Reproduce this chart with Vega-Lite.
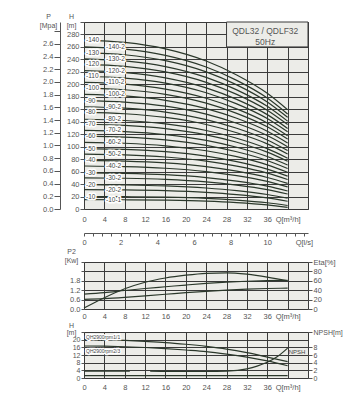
{
"$schema":"https://vega.github.io/schema/vega-lite/v6.json",
"background":"white",
"padding":{"left":38,"top":11,"right":5,"bottom":5},
"spacing":0,
"config":{
 "view":{"fill":"#ecece8","stroke":"#3a3a3a","strokeWidth":1},
 "font":"Liberation Sans",
 "axis":{"labelColor":"#555","titleColor":"#555","labelFont":"Liberation Sans","titleFont":"Liberation Sans","titleFontWeight":"normal","gridColor":"#3a3a3a","gridOpacity":1,"gridWidth":1,"domainColor":"#555","tickColor":"#555","labelOverlap":false,"labelFlush":false,"labelBound":false},
 "line":{"color":"#2b382b","strokeWidth":1.2,"interpolate":"monotone"},
 "text":{"font":"Liberation Sans","color":"#444"}
},
"datasets":{
"top":[
{"m":"-10-1","t":"b","Q":0,"H":15},{"m":"-10-1","t":"b","Q":8,"H":14.8},{"m":"-10-1","t":"b","Q":16,"H":14.2},{"m":"-10-1","t":"b","Q":24,"H":12.7},{"m":"-10-1","t":"b","Q":30,"H":10.3},{"m":"-10-1","t":"b","Q":36,"H":6.5},{"m":"-10-1","t":"b","Q":40,"H":2.6},
{"m":"-10","t":"a","Q":0,"H":20},{"m":"-10","t":"a","Q":8,"H":19.7},{"m":"-10","t":"a","Q":16,"H":19.0},{"m":"-10","t":"a","Q":24,"H":17.1},{"m":"-10","t":"a","Q":30,"H":14.3},{"m":"-10","t":"a","Q":36,"H":10.0},{"m":"-10","t":"a","Q":40,"H":5.6},
{"m":"-20-2","t":"b","Q":0,"H":31},{"m":"-20-2","t":"b","Q":8,"H":30.6},{"m":"-20-2","t":"b","Q":16,"H":29.4},{"m":"-20-2","t":"b","Q":24,"H":26.7},{"m":"-20-2","t":"b","Q":30,"H":23.1},{"m":"-20-2","t":"b","Q":36,"H":17.7},{"m":"-20-2","t":"b","Q":40,"H":12.4},
{"m":"-20","t":"a","Q":0,"H":39},{"m":"-20","t":"a","Q":8,"H":38.5},{"m":"-20","t":"a","Q":16,"H":37.0},{"m":"-20","t":"a","Q":24,"H":33.7},{"m":"-20","t":"a","Q":30,"H":29.5},{"m":"-20","t":"a","Q":36,"H":23.3},{"m":"-20","t":"a","Q":40,"H":17.3},
{"m":"-30-2","t":"b","Q":0,"H":50},{"m":"-30-2","t":"b","Q":8,"H":49.3},{"m":"-30-2","t":"b","Q":16,"H":47.4},{"m":"-30-2","t":"b","Q":24,"H":43.4},{"m":"-30-2","t":"b","Q":30,"H":38.3},{"m":"-30-2","t":"b","Q":36,"H":31.0},{"m":"-30-2","t":"b","Q":40,"H":24.0},
{"m":"-30","t":"a","Q":0,"H":58},{"m":"-30","t":"a","Q":8,"H":57.2},{"m":"-30","t":"a","Q":16,"H":55.0},{"m":"-30","t":"a","Q":24,"H":50.4},{"m":"-30","t":"a","Q":30,"H":44.7},{"m":"-30","t":"a","Q":36,"H":36.6},{"m":"-30","t":"a","Q":40,"H":28.9},
{"m":"-40-2","t":"b","Q":0,"H":69},{"m":"-40-2","t":"b","Q":8,"H":68.0},{"m":"-40-2","t":"b","Q":16,"H":65.4},{"m":"-40-2","t":"b","Q":24,"H":60.1},{"m":"-40-2","t":"b","Q":30,"H":53.5},{"m":"-40-2","t":"b","Q":36,"H":44.3},{"m":"-40-2","t":"b","Q":40,"H":35.6},
{"m":"-40","t":"a","Q":0,"H":78},{"m":"-40","t":"a","Q":8,"H":76.9},{"m":"-40","t":"a","Q":16,"H":73.9},{"m":"-40","t":"a","Q":24,"H":68.0},{"m":"-40","t":"a","Q":30,"H":60.7},{"m":"-40","t":"a","Q":36,"H":50.6},{"m":"-40","t":"a","Q":40,"H":41.1},
{"m":"-50-2","t":"b","Q":0,"H":88},{"m":"-50-2","t":"b","Q":8,"H":86.8},{"m":"-50-2","t":"b","Q":16,"H":83.4},{"m":"-50-2","t":"b","Q":24,"H":76.8},{"m":"-50-2","t":"b","Q":30,"H":68.7},{"m":"-50-2","t":"b","Q":36,"H":57.6},{"m":"-50-2","t":"b","Q":40,"H":47.3},
{"m":"-50","t":"a","Q":0,"H":97},{"m":"-50","t":"a","Q":8,"H":95.6},{"m":"-50","t":"a","Q":16,"H":92.0},{"m":"-50","t":"a","Q":24,"H":84.7},{"m":"-50","t":"a","Q":30,"H":75.9},{"m":"-50","t":"a","Q":36,"H":63.9},{"m":"-50","t":"a","Q":40,"H":52.8},
{"m":"-60-2","t":"b","Q":0,"H":107},{"m":"-60-2","t":"b","Q":8,"H":105.5},{"m":"-60-2","t":"b","Q":16,"H":101.4},{"m":"-60-2","t":"b","Q":24,"H":93.4},{"m":"-60-2","t":"b","Q":30,"H":83.9},{"m":"-60-2","t":"b","Q":36,"H":70.9},{"m":"-60-2","t":"b","Q":40,"H":58.9},
{"m":"-60","t":"a","Q":0,"H":117},{"m":"-60","t":"a","Q":8,"H":115.4},{"m":"-60","t":"a","Q":16,"H":110.9},{"m":"-60","t":"a","Q":24,"H":102.2},{"m":"-60","t":"a","Q":30,"H":91.9},{"m":"-60","t":"a","Q":36,"H":77.9},{"m":"-60","t":"a","Q":40,"H":65.0},
{"m":"-70-2","t":"b","Q":0,"H":126},{"m":"-70-2","t":"b","Q":8,"H":124.2},{"m":"-70-2","t":"b","Q":16,"H":119.4},{"m":"-70-2","t":"b","Q":24,"H":110.1},{"m":"-70-2","t":"b","Q":30,"H":99.1},{"m":"-70-2","t":"b","Q":36,"H":84.2},{"m":"-70-2","t":"b","Q":40,"H":70.5},
{"m":"-70","t":"a","Q":0,"H":136},{"m":"-70","t":"a","Q":8,"H":134.1},{"m":"-70","t":"a","Q":16,"H":128.9},{"m":"-70","t":"a","Q":24,"H":118.9},{"m":"-70","t":"a","Q":30,"H":107.1},{"m":"-70","t":"a","Q":36,"H":91.2},{"m":"-70","t":"a","Q":40,"H":76.6},
{"m":"-80-2","t":"b","Q":0,"H":144},{"m":"-80-2","t":"b","Q":8,"H":142.0},{"m":"-80-2","t":"b","Q":16,"H":136.5},{"m":"-80-2","t":"b","Q":24,"H":125.9},{"m":"-80-2","t":"b","Q":30,"H":113.5},{"m":"-80-2","t":"b","Q":36,"H":96.8},{"m":"-80-2","t":"b","Q":40,"H":81.5},
{"m":"-80","t":"a","Q":0,"H":155},{"m":"-80","t":"a","Q":8,"H":152.8},{"m":"-80","t":"a","Q":16,"H":146.9},{"m":"-80","t":"a","Q":24,"H":135.6},{"m":"-80","t":"a","Q":30,"H":122.3},{"m":"-80","t":"a","Q":36,"H":104.5},{"m":"-80","t":"a","Q":40,"H":88.3},
{"m":"-90-2","t":"b","Q":0,"H":164},{"m":"-90-2","t":"b","Q":8,"H":161.7},{"m":"-90-2","t":"b","Q":16,"H":155.5},{"m":"-90-2","t":"b","Q":24,"H":143.5},{"m":"-90-2","t":"b","Q":30,"H":129.5},{"m":"-90-2","t":"b","Q":36,"H":110.8},{"m":"-90-2","t":"b","Q":40,"H":93.8},
{"m":"-90","t":"a","Q":0,"H":174},{"m":"-90","t":"a","Q":8,"H":171.6},{"m":"-90","t":"a","Q":16,"H":165.0},{"m":"-90","t":"a","Q":24,"H":152.3},{"m":"-90","t":"a","Q":30,"H":137.5},{"m":"-90","t":"a","Q":36,"H":117.8},{"m":"-90","t":"a","Q":40,"H":99.9},
{"m":"-100-2","t":"b","Q":0,"H":184},{"m":"-100-2","t":"b","Q":8,"H":181.4},{"m":"-100-2","t":"b","Q":16,"H":174.4},{"m":"-100-2","t":"b","Q":24,"H":161.1},{"m":"-100-2","t":"b","Q":30,"H":145.5},{"m":"-100-2","t":"b","Q":36,"H":124.8},{"m":"-100-2","t":"b","Q":40,"H":106.0},
{"m":"-100","t":"a","Q":0,"H":194},{"m":"-100","t":"a","Q":8,"H":191.3},{"m":"-100","t":"a","Q":16,"H":183.9},{"m":"-100","t":"a","Q":24,"H":169.8},{"m":"-100","t":"a","Q":30,"H":153.5},{"m":"-100","t":"a","Q":36,"H":131.8},{"m":"-100","t":"a","Q":40,"H":112.1},
{"m":"-110-2","t":"b","Q":0,"H":203},{"m":"-110-2","t":"b","Q":8,"H":200.2},{"m":"-110-2","t":"b","Q":16,"H":192.4},{"m":"-110-2","t":"b","Q":24,"H":177.7},{"m":"-110-2","t":"b","Q":30,"H":160.7},{"m":"-110-2","t":"b","Q":36,"H":138.1},{"m":"-110-2","t":"b","Q":40,"H":117.6},
{"m":"-110","t":"a","Q":0,"H":213},{"m":"-110","t":"a","Q":8,"H":210.0},{"m":"-110","t":"a","Q":16,"H":201.9},{"m":"-110","t":"a","Q":24,"H":186.5},{"m":"-110","t":"a","Q":30,"H":168.7},{"m":"-110","t":"a","Q":36,"H":145.1},{"m":"-110","t":"a","Q":40,"H":123.8},
{"m":"-120-2","t":"b","Q":0,"H":222},{"m":"-120-2","t":"b","Q":8,"H":218.9},{"m":"-120-2","t":"b","Q":16,"H":210.5},{"m":"-120-2","t":"b","Q":24,"H":194.4},{"m":"-120-2","t":"b","Q":30,"H":175.9},{"m":"-120-2","t":"b","Q":36,"H":151.4},{"m":"-120-2","t":"b","Q":40,"H":129.3},
{"m":"-120","t":"a","Q":0,"H":232},{"m":"-120","t":"a","Q":8,"H":228.8},{"m":"-120","t":"a","Q":16,"H":219.9},{"m":"-120","t":"a","Q":24,"H":203.2},{"m":"-120","t":"a","Q":30,"H":183.9},{"m":"-120","t":"a","Q":36,"H":158.4},{"m":"-120","t":"a","Q":40,"H":135.4},
{"m":"-130-2","t":"b","Q":0,"H":241},{"m":"-130-2","t":"b","Q":8,"H":237.6},{"m":"-130-2","t":"b","Q":16,"H":228.5},{"m":"-130-2","t":"b","Q":24,"H":211.1},{"m":"-130-2","t":"b","Q":30,"H":191.1},{"m":"-130-2","t":"b","Q":36,"H":164.7},{"m":"-130-2","t":"b","Q":40,"H":140.9},
{"m":"-130","t":"a","Q":0,"H":251},{"m":"-130","t":"a","Q":8,"H":247.5},{"m":"-130","t":"a","Q":16,"H":237.9},{"m":"-130","t":"a","Q":24,"H":219.9},{"m":"-130","t":"a","Q":30,"H":199.1},{"m":"-130","t":"a","Q":36,"H":171.7},{"m":"-130","t":"a","Q":40,"H":147.0},
{"m":"-140-2","t":"b","Q":0,"H":260},{"m":"-140-2","t":"b","Q":8,"H":256.4},{"m":"-140-2","t":"b","Q":16,"H":246.5},{"m":"-140-2","t":"b","Q":24,"H":227.8},{"m":"-140-2","t":"b","Q":30,"H":206.3},{"m":"-140-2","t":"b","Q":36,"H":178.0},{"m":"-140-2","t":"b","Q":40,"H":152.5},
{"m":"-140","t":"a","Q":0,"H":271},{"m":"-140","t":"a","Q":8,"H":267.2},{"m":"-140","t":"a","Q":16,"H":256.9},{"m":"-140","t":"a","Q":24,"H":237.4},{"m":"-140","t":"a","Q":30,"H":215.1},{"m":"-140","t":"a","Q":36,"H":185.7},{"m":"-140","t":"a","Q":40,"H":159.3}
],
"box":[{"x1":28,"x2":44,"y1":260,"y2":300,"xm":35.6,"ym":285.5,"txt":"QDL32 / QDLF32\n50Hz"}],
"mid":[
{"s":"eta","Q":0,"v":2},{"s":"eta","Q":4,"v":24},{"s":"eta","Q":8,"v":43},{"s":"eta","Q":12,"v":57},{"s":"eta","Q":16,"v":66},{"s":"eta","Q":20,"v":72},{"s":"eta","Q":24,"v":76},{"s":"eta","Q":28,"v":77},{"s":"eta","Q":32,"v":74},{"s":"eta","Q":36,"v":68},{"s":"eta","Q":40,"v":60},
{"s":"p1","Q":0,"v":0.95},{"s":"p1","Q":4,"v":1.04},{"s":"p1","Q":8,"v":1.18},{"s":"p1","Q":12,"v":1.31},{"s":"p1","Q":16,"v":1.42},{"s":"p1","Q":20,"v":1.53},{"s":"p1","Q":24,"v":1.63},{"s":"p1","Q":28,"v":1.71},{"s":"p1","Q":32,"v":1.77},{"s":"p1","Q":36,"v":1.81},{"s":"p1","Q":40,"v":1.83},
{"s":"p2","Q":0,"v":0.62},{"s":"p2","Q":4,"v":0.66},{"s":"p2","Q":8,"v":0.74},{"s":"p2","Q":12,"v":0.84},{"s":"p2","Q":16,"v":0.94},{"s":"p2","Q":20,"v":1.04},{"s":"p2","Q":24,"v":1.13},{"s":"p2","Q":28,"v":1.21},{"s":"p2","Q":32,"v":1.27},{"s":"p2","Q":36,"v":1.31},{"s":"p2","Q":40,"v":1.33}
],
"bot":[
{"s":"QH2900rpm1/1","Q":0,"v":20.0},{"s":"QH2900rpm1/1","Q":4,"v":19.9},{"s":"QH2900rpm1/1","Q":8,"v":19.6},{"s":"QH2900rpm1/1","Q":12,"v":19.1},{"s":"QH2900rpm1/1","Q":16,"v":18.5},{"s":"QH2900rpm1/1","Q":20,"v":17.6},{"s":"QH2900rpm1/1","Q":24,"v":16.5},{"s":"QH2900rpm1/1","Q":28,"v":15.1},{"s":"QH2900rpm1/1","Q":32,"v":13.2},{"s":"QH2900rpm1/1","Q":36,"v":10.9},{"s":"QH2900rpm1/1","Q":40,"v":8.5},
{"s":"QH2900rpm2/3","Q":0,"v":16.7},{"s":"QH2900rpm2/3","Q":4,"v":16.6},{"s":"QH2900rpm2/3","Q":8,"v":16.3},{"s":"QH2900rpm2/3","Q":12,"v":15.9},{"s":"QH2900rpm2/3","Q":16,"v":15.3},{"s":"QH2900rpm2/3","Q":20,"v":14.6},{"s":"QH2900rpm2/3","Q":24,"v":13.8},{"s":"QH2900rpm2/3","Q":28,"v":12.5},{"s":"QH2900rpm2/3","Q":32,"v":10.9},{"s":"QH2900rpm2/3","Q":36,"v":8.9},{"s":"QH2900rpm2/3","Q":40,"v":6.4},
{"s":"base","Q":0,"v":1.2},{"s":"base","Q":40,"v":1.2}
],
"npsh":[
{"g":1,"Q":0,"v":1.8},{"g":1,"Q":9,"v":1.8},
{"g":2,"Q":13,"v":1.8},{"g":2,"Q":20,"v":1.7},{"g":2,"Q":24,"v":1.7},{"g":2,"Q":28,"v":1.8},{"g":2,"Q":32,"v":2.4},{"g":2,"Q":34,"v":3.1},{"g":2,"Q":36,"v":4.1},{"g":2,"Q":38,"v":5.6},{"g":2,"Q":40,"v":7.8}
]
},
"vconcat":[
{
 "width":224,"height":187,
 "layer":[
  {"layer":[
   {"data":{"name":"top"},"mark":{"type":"line"},
    "encoding":{
     "x":{"field":"Q","type":"quantitative","scale":{"domain":[0,44],"nice":false,"zero":false},
      "axis":{"values":[0,4,8,12,16,20,24,28,32,36,40],"grid":true,"ticks":false,"domain":false,"labelFontSize":7.5,"labelPadding":6,"title":null,"labelExpr":"datum.value == 40 ? '\u00a0\u00a0\u00a0\u00a0\u00a0\u00a0Q[m³/h]' : datum.label"}},
     "y":{"field":"H","type":"quantitative","scale":{"domain":[0,300],"nice":false},
      "axis":{"values":[0,20,40,60,80,100,120,140,160,180,200,220,240,260,280,300],"grid":true,"tickSize":4,"domain":false,"labelFontSize":7.5,"labelPadding":1,"labelExpr":"datum.value == 300 ? '' : datum.label","title":["H","[m]"],"titleAngle":0,"titleFontSize":7,"titleX":-13,"titleY":-3,"titleAlign":"center","titleBaseline":"bottom","titleLineHeight":9}},
     "detail":{"field":"m"}}},
   {"data":{"name":"top"},"transform":[{"filter":"datum.Q == 0 && datum.t == 'a'"}],
    "mark":{"type":"text","align":"left","baseline":"middle","dx":2,"fontSize":6.5,"stroke":"white","strokeWidth":3,"strokeJoin":"round"},
    "encoding":{
     "x":{"field":"Q","type":"quantitative","scale":{"domain":[0,44],"nice":false,"zero":false},
      "axis":{"values":[0,4,8,12,16,20,24,28,32,36,40],"grid":true,"ticks":false,"domain":false,"labelFontSize":7.5,"labelPadding":6,"title":null,"labelExpr":"datum.value == 40 ? '\u00a0\u00a0\u00a0\u00a0\u00a0\u00a0Q[m³/h]' : datum.label"}},
     "y":{"field":"H","type":"quantitative","scale":{"domain":[0,300],"nice":false},
      "axis":{"values":[0,20,40,60,80,100,120,140,160,180,200,220,240,260,280,300],"grid":true,"tickSize":4,"domain":false,"labelFontSize":7.5,"labelPadding":1,"labelExpr":"datum.value == 300 ? '' : datum.label","title":["H","[m]"],"titleAngle":0,"titleFontSize":7,"titleX":-13,"titleY":-3,"titleAlign":"center","titleBaseline":"bottom","titleLineHeight":9}},
     "text":{"field":"m"}}},
   {"data":{"name":"top"},"transform":[{"filter":"datum.Q == 0 && datum.t == 'a'"}],
    "mark":{"type":"text","align":"left","baseline":"middle","dx":2,"fontSize":6.5},
    "encoding":{
     "x":{"field":"Q","type":"quantitative","scale":{"domain":[0,44],"nice":false,"zero":false},
      "axis":{"values":[0,4,8,12,16,20,24,28,32,36,40],"grid":true,"ticks":false,"domain":false,"labelFontSize":7.5,"labelPadding":6,"title":null,"labelExpr":"datum.value == 40 ? '\u00a0\u00a0\u00a0\u00a0\u00a0\u00a0Q[m³/h]' : datum.label"}},
     "y":{"field":"H","type":"quantitative","scale":{"domain":[0,300],"nice":false},
      "axis":{"values":[0,20,40,60,80,100,120,140,160,180,200,220,240,260,280,300],"grid":true,"tickSize":4,"domain":false,"labelFontSize":7.5,"labelPadding":1,"labelExpr":"datum.value == 300 ? '' : datum.label","title":["H","[m]"],"titleAngle":0,"titleFontSize":7,"titleX":-13,"titleY":-3,"titleAlign":"center","titleBaseline":"bottom","titleLineHeight":9}},
     "text":{"field":"m"}}},
   {"data":{"name":"top"},"transform":[{"filter":"datum.Q == 0 && datum.t == 'b'"}],
    "mark":{"type":"text","align":"left","baseline":"middle","dx":22,"fontSize":6.5,"stroke":"white","strokeWidth":3,"strokeJoin":"round"},
    "encoding":{
     "x":{"field":"Q","type":"quantitative","scale":{"domain":[0,44],"nice":false,"zero":false},
      "axis":{"values":[0,4,8,12,16,20,24,28,32,36,40],"grid":true,"ticks":false,"domain":false,"labelFontSize":7.5,"labelPadding":6,"title":null,"labelExpr":"datum.value == 40 ? '\u00a0\u00a0\u00a0\u00a0\u00a0\u00a0Q[m³/h]' : datum.label"}},
     "y":{"field":"H","type":"quantitative","scale":{"domain":[0,300],"nice":false},
      "axis":{"values":[0,20,40,60,80,100,120,140,160,180,200,220,240,260,280,300],"grid":true,"tickSize":4,"domain":false,"labelFontSize":7.5,"labelPadding":1,"labelExpr":"datum.value == 300 ? '' : datum.label","title":["H","[m]"],"titleAngle":0,"titleFontSize":7,"titleX":-13,"titleY":-3,"titleAlign":"center","titleBaseline":"bottom","titleLineHeight":9}},
     "text":{"field":"m"}}},
   {"data":{"name":"top"},"transform":[{"filter":"datum.Q == 0 && datum.t == 'b'"}],
    "mark":{"type":"text","align":"left","baseline":"middle","dx":22,"fontSize":6.5},
    "encoding":{
     "x":{"field":"Q","type":"quantitative","scale":{"domain":[0,44],"nice":false,"zero":false},
      "axis":{"values":[0,4,8,12,16,20,24,28,32,36,40],"grid":true,"ticks":false,"domain":false,"labelFontSize":7.5,"labelPadding":6,"title":null,"labelExpr":"datum.value == 40 ? '\u00a0\u00a0\u00a0\u00a0\u00a0\u00a0Q[m³/h]' : datum.label"}},
     "y":{"field":"H","type":"quantitative","scale":{"domain":[0,300],"nice":false},
      "axis":{"values":[0,20,40,60,80,100,120,140,160,180,200,220,240,260,280,300],"grid":true,"tickSize":4,"domain":false,"labelFontSize":7.5,"labelPadding":1,"labelExpr":"datum.value == 300 ? '' : datum.label","title":["H","[m]"],"titleAngle":0,"titleFontSize":7,"titleX":-13,"titleY":-3,"titleAlign":"center","titleBaseline":"bottom","titleLineHeight":9}},
     "text":{"field":"m"}}},
   {"data":{"name":"box"},"mark":{"type":"rect","fill":"#ecece8","stroke":"#3a3a3a","strokeWidth":1},
    "encoding":{
     "x":{"field":"x1","type":"quantitative","scale":{"domain":[0,44],"nice":false,"zero":false},
      "axis":{"values":[0,4,8,12,16,20,24,28,32,36,40],"grid":true,"ticks":false,"domain":false,"labelFontSize":7.5,"labelPadding":6,"title":null,"labelExpr":"datum.value == 40 ? '\u00a0\u00a0\u00a0\u00a0\u00a0\u00a0Q[m³/h]' : datum.label"}},
     "x2":{"field":"x2"},
     "y":{"field":"y1","type":"quantitative","scale":{"domain":[0,300],"nice":false},
      "axis":{"values":[0,20,40,60,80,100,120,140,160,180,200,220,240,260,280,300],"grid":true,"tickSize":4,"domain":false,"labelFontSize":7.5,"labelPadding":1,"labelExpr":"datum.value == 300 ? '' : datum.label","title":["H","[m]"],"titleAngle":0,"titleFontSize":7,"titleX":-13,"titleY":-3,"titleAlign":"center","titleBaseline":"bottom","titleLineHeight":9}},
     "y2":{"field":"y2"}}},
   {"data":{"name":"box"},"mark":{"type":"text","align":"center","baseline":"middle","fontSize":8.5,"lineBreak":"\n","lineHeight":11,"color":"#555"},
    "encoding":{
     "x":{"field":"xm","type":"quantitative","scale":{"domain":[0,44],"nice":false,"zero":false},
      "axis":{"values":[0,4,8,12,16,20,24,28,32,36,40],"grid":true,"ticks":false,"domain":false,"labelFontSize":7.5,"labelPadding":6,"title":null,"labelExpr":"datum.value == 40 ? '\u00a0\u00a0\u00a0\u00a0\u00a0\u00a0Q[m³/h]' : datum.label"}},
     "y":{"field":"ym","type":"quantitative","scale":{"domain":[0,300],"nice":false},
      "axis":{"values":[0,20,40,60,80,100,120,140,160,180,200,220,240,260,280,300],"grid":true,"tickSize":4,"domain":false,"labelFontSize":7.5,"labelPadding":1,"labelExpr":"datum.value == 300 ? '' : datum.label","title":["H","[m]"],"titleAngle":0,"titleFontSize":7,"titleX":-13,"titleY":-3,"titleAlign":"center","titleBaseline":"bottom","titleLineHeight":9}},
     "text":{"field":"txt"}}}
  ]},
  {"data":{"values":[{"P":0}]},"mark":{"type":"rule","opacity":0},
   "encoding":{"y":{"field":"P","type":"quantitative","scale":{"domain":[0,2.943],"nice":false},
    "axis":{"orient":"left","offset":24,"values":[0,0.2,0.4,0.6,0.8,1,1.2,1.4,1.6,1.8,2,2.2,2.4,2.6,2.8],"format":".1f",
     "labelExpr":"datum.value > 2.7 ? '' : datum.label","grid":false,"domain":true,"tickSize":6,"labelFontSize":7.5,"labelPadding":1,
     "title":["P","[Mpa]"],"titleAngle":0,"titleFontSize":7,"titleX":-12,"titleY":-3,"titleAlign":"center","titleBaseline":"bottom","titleLineHeight":9}}}},
  {"data":{"values":[{"L":0}]},"mark":{"type":"rule","opacity":0},
   "encoding":{"x":{"field":"L","type":"quantitative","scale":{"domain":[0,12.222],"nice":false,"zero":false},
    "axis":{"orient":"bottom","offset":24,"values":[0,0.5,1,1.5,2,2.5,3,3.5,4,4.5,5,5.5,6,6.5,7,7.5,8,8.5,9,9.5,10,10.5,11,11.5,12],
     "labelExpr":"datum.value == 12 ? 'Q[l/s]\u00a0\u00a0\u00a0\u00a0\u00a0' : (datum.value % 2 == 0 ? format(datum.value, 'd') : '')",
     "grid":false,"domain":true,"tickSize":3,"labelFontSize":7.5,"labelPadding":2,"title":null}}}}
 ],
 "resolve":{"scale":{"x":"independent","y":"independent"},"axis":{"x":"independent","y":"independent"}}
},
{
 "width":224,"height":47,
 "data":{"name":"mid"},
 "layer":[
  {"transform":[{"filter":"datum.s != 'eta'"}],"mark":{"type":"line"},
   "encoding":{
    "x":{"field":"Q","type":"quantitative","scale":{"domain":[0,44],"nice":false,"zero":false},
     "axis":{"values":[0,4,8,12,16,20,24,28,32,36,40],"grid":true,"ticks":false,"domain":false,"labelFontSize":7.5,"labelPadding":3,"title":null,"labelExpr":"datum.value == 40 ? '\u00a0\u00a0\u00a0\u00a0\u00a0\u00a0Q[m³/h]' : datum.label"}},
    "y":{"field":"v","type":"quantitative","scale":{"domain":[0,3],"nice":false},
     "axis":{"values":[0,0.6,1.2,1.8,2.4,3],"grid":true,"tickSize":3,"domain":false,"labelFontSize":7.5,"labelPadding":1,
      "labelExpr":"datum.value > 2 ? '' : format(datum.value, '.1f')",
      "title":["P2","[Kw]"],"titleAngle":0,"titleFontSize":7,"titleX":-13,"titleY":-8,"titleAlign":"center","titleBaseline":"bottom","titleLineHeight":9}},
    "detail":{"field":"s"}}},
  {"transform":[{"filter":"datum.s == 'eta'"}],"mark":{"type":"line"},
   "encoding":{
    "x":{"field":"Q","type":"quantitative","scale":{"domain":[0,44],"nice":false,"zero":false},
     "axis":{"values":[0,4,8,12,16,20,24,28,32,36,40],"grid":true,"ticks":false,"domain":false,"labelFontSize":7.5,"labelPadding":3,"title":null,"labelExpr":"datum.value == 40 ? '\u00a0\u00a0\u00a0\u00a0\u00a0\u00a0Q[m³/h]' : datum.label"}},
    "y":{"field":"v","type":"quantitative","scale":{"domain":[0,100],"nice":false},
     "axis":{"orient":"right","values":[0,20,40,60,80,100],"grid":false,"tickSize":4,"domain":false,"labelFontSize":7.5,"labelPadding":1,
      "labelExpr":"datum.value == 100 ? 'Eta[%]' : datum.label","title":null}}}}
 ],
 "resolve":{"scale":{"y":"independent"}}
},
{
 "width":224,"height":46,
 "layer":[
  {"layer":[
   {"data":{"name":"bot"},"mark":{"type":"line"},
    "encoding":{
     "x":{"field":"Q","type":"quantitative","scale":{"domain":[0,44],"nice":false,"zero":false},
      "axis":{"values":[0,4,8,12,16,20,24,28,32,36,40],"grid":true,"ticks":false,"domain":false,"labelFontSize":7.5,"labelPadding":5,"title":null,"labelExpr":"datum.value == 40 ? '\u00a0\u00a0\u00a0\u00a0\u00a0\u00a0Q[m³/h]' : datum.label"}},
     "y":{"field":"v","type":"quantitative","scale":{"domain":[0,24],"nice":false},
      "axis":{"values":[0,4,8,12,16,20,24],"grid":true,"tickSize":3,"domain":false,"labelFontSize":7,"labelPadding":1,"labelExpr":"datum.value == 24 ? '' : datum.label","title":["H","[m]"],"titleAngle":0,"titleFontSize":7,"titleX":-13,"titleY":-4,"titleAlign":"center","titleBaseline":"bottom","titleLineHeight":7}},
     "detail":{"field":"s"}}},
   {"data":{"name":"bot"},"transform":[{"filter":"datum.Q == 0 && datum.s == 'QH2900rpm1/1'"}],
    "mark":{"type":"text","align":"left","baseline":"middle","dx":2,"dy":-3,"fontSize":5,"stroke":"white","strokeWidth":2.5},
    "encoding":{
     "x":{"field":"Q","type":"quantitative","scale":{"domain":[0,44],"nice":false,"zero":false},
      "axis":{"values":[0,4,8,12,16,20,24,28,32,36,40],"grid":true,"ticks":false,"domain":false,"labelFontSize":7.5,"labelPadding":5,"title":null,"labelExpr":"datum.value == 40 ? '\u00a0\u00a0\u00a0\u00a0\u00a0\u00a0Q[m³/h]' : datum.label"}},
     "y":{"field":"v","type":"quantitative","scale":{"domain":[0,24],"nice":false},
      "axis":{"values":[0,4,8,12,16,20,24],"grid":true,"tickSize":3,"domain":false,"labelFontSize":7,"labelPadding":1,"labelExpr":"datum.value == 24 ? '' : datum.label","title":["H","[m]"],"titleAngle":0,"titleFontSize":7,"titleX":-13,"titleY":-4,"titleAlign":"center","titleBaseline":"bottom","titleLineHeight":7}},
     "text":{"field":"s"}}},
   {"data":{"name":"bot"},"transform":[{"filter":"datum.Q == 0 && datum.s == 'QH2900rpm1/1'"}],
    "mark":{"type":"text","align":"left","baseline":"middle","dx":2,"dy":-3,"fontSize":5},
    "encoding":{
     "x":{"field":"Q","type":"quantitative","scale":{"domain":[0,44],"nice":false,"zero":false},
      "axis":{"values":[0,4,8,12,16,20,24,28,32,36,40],"grid":true,"ticks":false,"domain":false,"labelFontSize":7.5,"labelPadding":5,"title":null,"labelExpr":"datum.value == 40 ? '\u00a0\u00a0\u00a0\u00a0\u00a0\u00a0Q[m³/h]' : datum.label"}},
     "y":{"field":"v","type":"quantitative","scale":{"domain":[0,24],"nice":false},
      "axis":{"values":[0,4,8,12,16,20,24],"grid":true,"tickSize":3,"domain":false,"labelFontSize":7,"labelPadding":1,"labelExpr":"datum.value == 24 ? '' : datum.label","title":["H","[m]"],"titleAngle":0,"titleFontSize":7,"titleX":-13,"titleY":-4,"titleAlign":"center","titleBaseline":"bottom","titleLineHeight":7}},
     "text":{"field":"s"}}},
   {"data":{"name":"bot"},"transform":[{"filter":"datum.Q == 0 && datum.s == 'QH2900rpm2/3'"}],
    "mark":{"type":"text","align":"left","baseline":"middle","dx":2,"dy":5,"fontSize":5,"stroke":"white","strokeWidth":2.5},
    "encoding":{
     "x":{"field":"Q","type":"quantitative","scale":{"domain":[0,44],"nice":false,"zero":false},
      "axis":{"values":[0,4,8,12,16,20,24,28,32,36,40],"grid":true,"ticks":false,"domain":false,"labelFontSize":7.5,"labelPadding":5,"title":null,"labelExpr":"datum.value == 40 ? '\u00a0\u00a0\u00a0\u00a0\u00a0\u00a0Q[m³/h]' : datum.label"}},
     "y":{"field":"v","type":"quantitative","scale":{"domain":[0,24],"nice":false},
      "axis":{"values":[0,4,8,12,16,20,24],"grid":true,"tickSize":3,"domain":false,"labelFontSize":7,"labelPadding":1,"labelExpr":"datum.value == 24 ? '' : datum.label","title":["H","[m]"],"titleAngle":0,"titleFontSize":7,"titleX":-13,"titleY":-4,"titleAlign":"center","titleBaseline":"bottom","titleLineHeight":7}},
     "text":{"field":"s"}}},
   {"data":{"name":"bot"},"transform":[{"filter":"datum.Q == 0 && datum.s == 'QH2900rpm2/3'"}],
    "mark":{"type":"text","align":"left","baseline":"middle","dx":2,"dy":5,"fontSize":5},
    "encoding":{
     "x":{"field":"Q","type":"quantitative","scale":{"domain":[0,44],"nice":false,"zero":false},
      "axis":{"values":[0,4,8,12,16,20,24,28,32,36,40],"grid":true,"ticks":false,"domain":false,"labelFontSize":7.5,"labelPadding":5,"title":null,"labelExpr":"datum.value == 40 ? '\u00a0\u00a0\u00a0\u00a0\u00a0\u00a0Q[m³/h]' : datum.label"}},
     "y":{"field":"v","type":"quantitative","scale":{"domain":[0,24],"nice":false},
      "axis":{"values":[0,4,8,12,16,20,24],"grid":true,"tickSize":3,"domain":false,"labelFontSize":7,"labelPadding":1,"labelExpr":"datum.value == 24 ? '' : datum.label","title":["H","[m]"],"titleAngle":0,"titleFontSize":7,"titleX":-13,"titleY":-4,"titleAlign":"center","titleBaseline":"bottom","titleLineHeight":7}},
     "text":{"field":"s"}}}
  ]},
  {"data":{"name":"npsh"},
   "layer":[
    {"mark":{"type":"line"},
     "encoding":{
      "x":{"field":"Q","type":"quantitative","scale":{"domain":[0,44],"nice":false,"zero":false},
       "axis":{"values":[0,4,8,12,16,20,24,28,32,36,40],"grid":true,"ticks":false,"domain":false,"labelFontSize":7.5,"labelPadding":5,"title":null,"labelExpr":"datum.value == 40 ? '\u00a0\u00a0\u00a0\u00a0\u00a0\u00a0Q[m³/h]' : datum.label"}},
      "y":{"field":"v","type":"quantitative","scale":{"domain":[0,12],"nice":false},
       "axis":{"orient":"right","values":[0,2,4,6,8,12],"grid":false,"tickSize":4,"domain":false,"labelFontSize":7,"labelPadding":1,"labelExpr":"datum.value == 12 ? 'NPSH[m]' : datum.label","title":null}},
      "detail":{"field":"g"}}},
    {"transform":[{"filter":"datum.g == 2 && datum.Q == 40"}],
     "mark":{"type":"text","text":"NPSH","align":"left","baseline":"middle","dx":1,"dy":4,"fontSize":6},
     "encoding":{
      "x":{"field":"Q","type":"quantitative","scale":{"domain":[0,44],"nice":false,"zero":false},
       "axis":{"values":[0,4,8,12,16,20,24,28,32,36,40],"grid":true,"ticks":false,"domain":false,"labelFontSize":7.5,"labelPadding":5,"title":null,"labelExpr":"datum.value == 40 ? '\u00a0\u00a0\u00a0\u00a0\u00a0\u00a0Q[m³/h]' : datum.label"}},
      "y":{"field":"v","type":"quantitative","scale":{"domain":[0,12],"nice":false},
       "axis":{"orient":"right","values":[0,2,4,6,8,12],"grid":false,"tickSize":4,"domain":false,"labelFontSize":7,"labelPadding":1,"labelExpr":"datum.value == 12 ? 'NPSH[m]' : datum.label","title":null}}}}
   ]}
 ],
 "resolve":{"scale":{"y":"independent"}}
}
]
}
